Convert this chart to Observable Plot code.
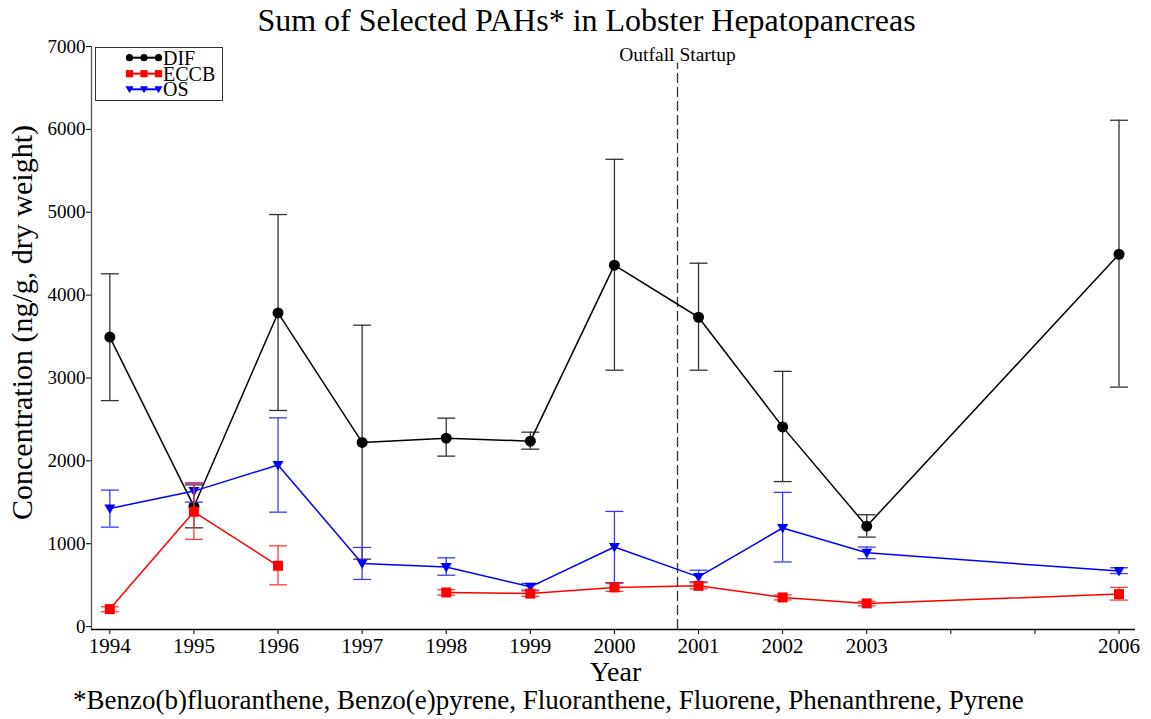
<!DOCTYPE html>
<html><head><meta charset="utf-8">
<script src="https://cdn.jsdelivr.net/npm/d3@7"></script>
<script src="https://cdn.jsdelivr.net/npm/@observablehq/plot@0.6"></script>
<style>
body{margin:0;background:#fff;font-family:"Liberation Serif","Times New Roman",serif;color:#000;}
#wrap{position:relative;width:1151px;height:719px;overflow:hidden;}
#title{height:36px;line-height:40px;font-size:32px;text-align:center;padding-left:22px;box-sizing:border-box;width:1151px;white-space:nowrap;}
#chart{height:650px;}
#caption{font-size:27px;line-height:28px;padding-left:73px;white-space:nowrap;}
#legend{position:absolute;left:95px;top:47px;}
</style></head><body>
<div id="wrap">
<div id="title">Sum of Selected PAHs* in Lobster Hepatopancreas</div>
<div id="chart"></div>
<div id="caption">*Benzo(b)fluoranthene, Benzo(e)pyrene, Fluoranthene, Fluorene, Phenanthrene, Pyrene</div>
<div id="legend"></div>
</div>
<script>
// ---- data ----
const years = [1994, 1995, 1996, 1997, 1998, 1999, 2000, 2001, 2002, 2003, 2006];

const difMean = [3494, 1450, 3785, 2222, 2274, 2238, 4361, 3733, 2410, 1212, 4493];
const difLow  = [2727, 1192, 2608,  814, 2057, 2141, 3094, 3094, 1750, 1080, 2890];
const difHigh = [4257, 1710, 4972, 3637, 2515, 2346, 5639, 4385, 3080, 1350, 6110];

const eccbMean = [211, 1385, 734, null, 412, 398, 473, 492, 352, 280, 392];
const eccbLow  = [179, 1052, 504, null, 380, 365, 425, 455, 322, 250, 320];
const eccbHigh = [239, 1727, 975, null, 445, 430, 520, 530, 382, 305, 473];

const osMean = [1426, 1635, 1950, 762, 720, 480, 960, 600, 1190, 890, 670];
const osLow  = [1200, 1502, 1381, 569, 620, 440, 530, 540,  780, 820, 640];
const osHigh = [1647, 1735, 2519, 955, 830, 520, 1390, 680, 1620, 960, 710];

const seriesNames = ["DIF", "ECCB", "OS"];
const xTicks = [1994, 1995, 1996, 1997, 1998, 1999, 2000, 2001, 2002, 2003, 2004, 2005, 2006];
const xTickLabels = ["1994", "1995", "1996", "1997", "1998", "1999", "2000", "2001", "2002", "2003", "", "", "2006"];
const yTicks = [0, 1000, 2000, 3000, 4000, 5000, 6000, 7000];
const outfallYear = 2000.75;
const outfallLabel = "Outfall Startup";
const xLabel = "Year";
const yLabel = "Concentration (ng/g, dry weight)";

// ---- styles ----
const xDomain = [1993.782, 2006.196];
const yDomain = [-35, 7000];
const colors = {DIF: "#000000", ECCB: "#ff0000", OS: "#0000ff"};
const errColors = {DIF: "#333333", ECCB: "#ff3c3c", OS: "#3a3aff"};
const serif = "'Liberation Serif', 'Times New Roman', serif";

function rows(name, mean, low, high) {
  return years.map((year, i) => ({series: name, year, mean: mean[i], low: low[i], high: high[i]}));
}
const dif = rows("DIF", difMean, difLow, difHigh);
const eccb = rows("ECCB", eccbMean, eccbLow, eccbHigh);
const os = rows("OS", osMean, osLow, osHigh);

const capSymbol = {draw(ctx) { ctx.moveTo(-9, 0); ctx.lineTo(9, 0); }};
const triDown = {draw(ctx) { ctx.moveTo(-5.5, -4); ctx.lineTo(5.5, -4); ctx.lineTo(0, 5.5); ctx.closePath(); }};

function seriesMarks(data, name, markerOpts) {
  const valid = data.filter(d => d.mean != null);
  return [
    Plot.ruleX(valid, {x: "year", y1: "low", y2: "high", stroke: errColors[name], strokeWidth: 1.3}),
    Plot.dot(valid, {x: "year", y: "low", symbol: capSymbol, r: 9, stroke: errColors[name], strokeWidth: 1.3, fill: "none"}),
    Plot.dot(valid, {x: "year", y: "high", symbol: capSymbol, r: 9, stroke: errColors[name], strokeWidth: 1.3, fill: "none"}),
    Plot.line(data, {x: "year", y: "mean", stroke: colors[name], strokeWidth: 1.5, curve: "linear"}),
    Plot.dot(valid, {x: "year", y: "mean", fill: colors[name], stroke: "none", ...markerOpts})
  ];
}

const chart = Plot.plot({
  width: 1151,
  height: 650,
  marginTop: 10,
  marginBottom: 57,
  marginLeft: 91,
  marginRight: 16,
  style: {fontFamily: serif, color: "#000", background: "#fff"},
  x: {domain: xDomain, label: null},
  y: {domain: yDomain, label: null},
  marks: [
    Plot.ruleY([yDomain[0]], {stroke: "#000", strokeWidth: 1.3}),
    Plot.ruleX([xDomain[0]], {stroke: "#555", strokeWidth: 1.3}),
    Plot.axisX({ticks: xTicks, tickFormat: d => xTickLabels[xTicks.indexOf(d)], tickSize: 5, tickPadding: 4, fontSize: 21, label: null}),
    Plot.axisY({ticks: yTicks, tickFormat: d => String(d), tickSize: 5, tickPadding: 1, fontSize: 19, label: null}),
    Plot.ruleX([outfallYear], {y1: yDomain[0], y2: 6800, stroke: "#333", strokeWidth: 1.3, strokeDasharray: "10,4"}),
    Plot.text([outfallLabel], {x: outfallYear, y: 6900, fontSize: 19.5, fill: "#000"}),
    Plot.text([xLabel], {frameAnchor: "bottom", textAnchor: "middle", lineAnchor: "middle", dx: 2, dy: 43, fontSize: 28, fill: "#000"}),
    Plot.text([yLabel], {frameAnchor: "left", textAnchor: "middle", lineAnchor: "middle", rotate: -90, dx: -69, dy: -15.5, fontSize: 30, fill: "#000"}),
    ...seriesMarks(dif, "DIF", {r: 5.5}),
    ...seriesMarks(os, "OS", {symbol: triDown, r: 5}),
    ...seriesMarks(eccb, "ECCB", {symbol: "square", r: 5.64})
  ]
});
document.getElementById("chart").appendChild(chart);

// ---- legend ----
const lg = d3.select("#legend").append("svg").attr("width", 130).attr("height", 56);
lg.append("rect").attr("x", 0.5).attr("y", 0.5).attr("width", 127).attr("height", 53)
  .attr("fill", "#fff").attr("stroke", "#333").attr("stroke-width", 1);
const rowY = [10.7, 26.7, 42.3];
const mx = [34.5, 49, 63.5];
seriesNames.forEach((name, i) => {
  const g = lg.append("g").attr("transform", `translate(0,${rowY[i]})`);
  g.append("line").attr("x1", mx[0]).attr("x2", mx[2]).attr("stroke", colors[name]).attr("stroke-width", 2);
  mx.forEach(x => {
    if (name === "DIF") g.append("circle").attr("cx", x).attr("r", 3.6).attr("fill", colors[name]);
    else if (name === "ECCB") g.append("rect").attr("x", x - 3.6).attr("y", -3.6).attr("width", 7.2).attr("height", 7.2).attr("fill", colors[name]);
    else g.append("path").attr("d", `M${x - 4},-3L${x + 4},-3L${x},4Z`).attr("fill", colors[name]);
  });
});
// one multi-line text element for the legend labels
const lt = lg.append("text").attr("font-size", 20).attr("font-family", serif);
seriesNames.forEach((name, i) => {
  lt.append("tspan").attr("x", 68).attr("y", rowY[i]).attr("dy", "0.35em").text(name);
});
</script>
</body></html>
